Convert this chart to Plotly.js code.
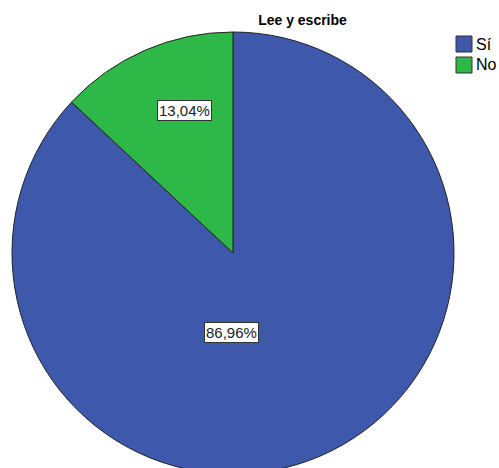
<!DOCTYPE html>
<html>
<head>
<meta charset="utf-8">
<script src="https://cdn.plot.ly/plotly-3.0.1.min.js"></script>
<style>
html,body{margin:0;padding:0;overflow:hidden;background:#fff;}
#chart{width:499px;height:476px;}
</style>
</head>
<body>
<div id="chart"></div>
<script>
var categories = ["Sí", "No"];
var values = [86.96, 13.04];
var labelText = ["86,96%", "13,04%"];
var colors = ["#3E58AC", "#2EB848"];

var W = 499, H = 476;
var FONT = "Liberation Sans, Arial, sans-serif";
// layout constants (pixels)
var labelPos = [[231.5, 332.5], [184.5, 110]];
var legendX0 = 456, legendY0 = 36, legendBox = 16, legendStep = 21, legendTextX = 474;

function px(x) { return x / W; }
function py(y) { return 1 - y / H; }

var annotations = labelText.map(function (t, i) {
  return {
    text: t, xref: "paper", yref: "paper",
    x: px(labelPos[i][0]), y: py(labelPos[i][1]),
    xanchor: "center", yanchor: "middle", showarrow: false,
    bgcolor: "#ffffff", bordercolor: "#333333", borderwidth: 1, borderpad: 1,
    font: {family: FONT, size: 15, color: "#222222"}
  };
});

var shapes = [];
categories.forEach(function (c, i) {
  var y0 = legendY0 + i * legendStep;
  shapes.push({
    type: "rect", xref: "paper", yref: "paper",
    x0: px(legendX0), x1: px(legendX0 + legendBox),
    y0: py(y0), y1: py(y0 + legendBox),
    fillcolor: colors[i], line: {color: "#333333", width: 1}
  });
  annotations.push({
    text: c, xref: "paper", yref: "paper",
    x: px(legendTextX), y: py(y0 + legendBox / 2),
    xanchor: "left", yanchor: "middle", showarrow: false,
    font: {family: FONT, size: 16, color: "#000000"}
  });
});

var trace = {
  type: "pie",
  labels: categories,
  values: values,
  sort: false,
  direction: "clockwise",
  rotation: 0,
  textinfo: "none",
  hoverinfo: "none",
  showlegend: false,
  marker: {colors: colors, line: {color: "#222222", width: 1}},
  domain: {x: [px(12), px(454)], y: [py(474), py(32)]}
};

var layout = {
  width: W, height: H,
  margin: {l: 0, r: 0, t: 0, b: 0, autoexpand: false},
  paper_bgcolor: "#ffffff",
  title: {
    text: "<b>Lee y escribe</b>",
    font: {family: FONT, size: 14, color: "#000000"},
    x: px(302.5), xanchor: "center", xref: "paper",
    y: py(20.5), yanchor: "middle", yref: "container"
  },
  showlegend: false,
  shapes: shapes,
  annotations: annotations
};

Plotly.newPlot("chart", [trace], layout, {displayModeBar: false, staticPlot: true});
</script>
</body>
</html>
